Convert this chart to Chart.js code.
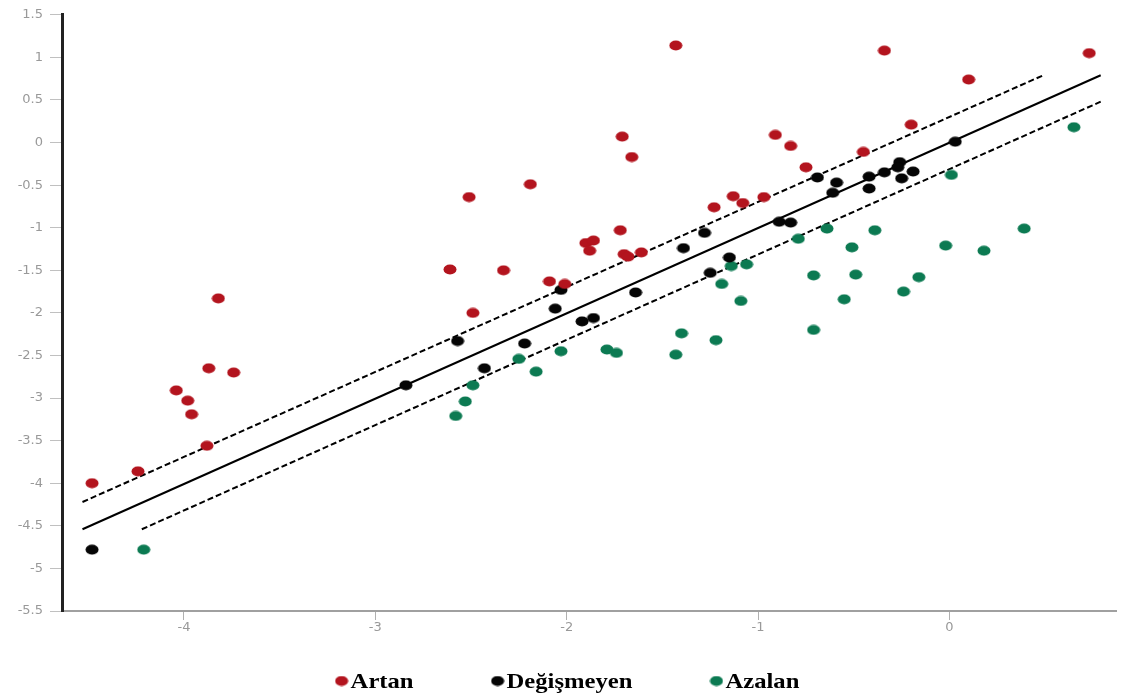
<!DOCTYPE html>
<html lang="tr">
<head>
<meta charset="utf-8">
<title>Artan / Değişmeyen / Azalan</title>
<script src="https://cdn.jsdelivr.net/npm/chart.js@4/dist/chart.umd.min.js"></script>
<style>
  html, body { margin: 0; padding: 0; background: #fff; overflow: hidden; }
  canvas { display: block; }
</style>
</head>
<body>
<canvas id="scatterChart" width="1121" height="697"></canvas>
<script>
// axis ticks
const xTicks = [-4, -3, -2, -1, 0]
const yTicks = [1.5, 1, 0.5, 0, -0.5, -1, -1.5, -2, -2.5, -3, -3.5, -4, -4.5, -5, -5.5]

// Artan
const artanX = [-4.48, -4.24, -4.04, -3.98, -3.96, -3.82, -3.87, -3.74, -3.88, -2.61, -2.51, -2.49, -2.33, -2.19,
  -2.09, -2.01, -1.90, -1.88, -1.86, -1.72, -1.71, -1.70, -1.68, -1.66, -1.61, -1.43, -1.23, -1.13, -1.08,
  -0.97, -0.91, -0.83, -0.75, -0.45, -0.34, -0.20, 0.10, 0.73]
const artanY = [-4.00, -3.86, -2.91, -3.03, -3.19, -1.83, -2.65, -2.70, -3.56, -1.49, -0.64, -2.00, -1.50, -0.49,
  -1.63, -1.66, -1.18, -1.27, -1.15, -1.03, 0.07, -1.31, -1.34, -0.17, -1.29, 1.14, -0.76, -0.63, -0.71,
  -0.64, 0.09, -0.04, -0.29, -0.11, 1.08, 0.21, 0.74, 1.05]

// Değişmeyen
const degismeyenX = [-4.48, -2.84, -2.57, -2.43, -2.22, -2.06, -2.03, -1.92, -1.86, -1.64, -1.39, -1.28, -1.25,
  -1.15, -0.89, -0.83, -0.69, -0.59, -0.61, -0.42, -0.42, -0.34, -0.26, -0.27, -0.19, -0.25, 0.03]
const degismeyenY = [-4.78, -2.85, -2.33, -2.65, -2.36, -1.95, -1.73, -2.10, -2.06, -1.76, -1.24, -1.06, -1.53,
  -1.35, -0.93, -0.94, -0.41, -0.47, -0.59, -0.40, -0.54, -0.35, -0.23, -0.29, -0.34, -0.42, 0.01]

// Azalan
const azalanX = [-4.21, -2.58, -2.53, -2.49, -2.25, -2.16, -2.03, -1.79, -1.74, -1.43, -1.40, -1.22, -1.19, -1.09,
  -1.14, -1.06, -0.79, -0.64, -0.71, -0.71, -0.51, -0.49, -0.55, -0.39, -0.16, -0.24, -0.02, 0.18, 0.39,
  0.01, 0.65]
const azalanY = [-4.78, -3.21, -3.04, -2.85, -2.54, -2.69, -2.45, -2.43, -2.47, -2.49, -2.24, -2.32, -1.66, -1.86,
  -1.45, -1.43, -1.13, -1.01, -1.56, -2.20, -1.23, -1.55, -1.84, -1.03, -1.58, -1.75, -1.21, -1.27, -1.01,
  -0.38, 0.18]

// regresyon doğrusu ve sınırlar
const fitX = [-4.53, 0.79]
const fitY = [-4.54, 0.79]
const upperX = [-4.53, 0.49]
const upperY = [-4.22, 0.79]
const lowerX = [-4.22, 0.79]
const lowerY = [-4.54, 0.48]

const RED = '#b3141e'
const BLACK = '#050505'
const GREEN = '#0c7a52'

function toPoints(xs, ys) {
  return xs.map((x, i) => ({ x, y: ys[i] }))
}

// image scan is stretched sideways, so dots are drawn as small ellipses
function makeDot(color) {
  const c = document.createElement('canvas')
  c.width = 14
  c.height = 11
  const g = c.getContext('2d')
  g.fillStyle = color
  g.beginPath()
  g.ellipse(7, 5.5, 6.5, 5, 0, 0, Math.PI * 2)
  g.fill()
  return c
}

const bottomLegend = {
  id: 'bottomLegend',
  afterDraw(chart) {
    const ctx = chart.ctx
    const items = chart.data.datasets.filter((ds) => ds.inLegend)
    const stretch = 1.12
    const gap = 77
    ctx.save()
    ctx.font = 'bold 22px "Liberation Serif", "Times New Roman", serif'
    ctx.textBaseline = 'middle'
    const widths = items.map((ds) => 14 + 2 + ctx.measureText(ds.label).width * stretch)
    const total = widths.reduce((a, b) => a + b, 0) + gap * (items.length - 1)
    let x = 567 - total / 2
    const y = 681
    items.forEach((ds, i) => {
      ctx.drawImage(ds.pointStyle, x, y - 5.5)
      ctx.save()
      ctx.translate(x + 16, y)
      ctx.scale(stretch, 1)
      ctx.fillStyle = '#000'
      ctx.fillText(ds.label, 0, 1)
      ctx.restore()
      x += widths[i] + gap
    })
    ctx.restore()
  }
}

const lineStyle = { showLine: true, pointRadius: 0, borderColor: '#000', borderWidth: 2, fill: false, order: 5 }

const ctx = document.getElementById('scatterChart').getContext('2d')
new Chart(ctx, {
  type: 'scatter',
  data: {
    datasets: [
      { label: 'Artan', data: toPoints(artanX, artanY), pointStyle: makeDot(RED), inLegend: true, order: 1 },
      { label: 'Değişmeyen', data: toPoints(degismeyenX, degismeyenY), pointStyle: makeDot(BLACK), inLegend: true, order: 1 },
      { label: 'Azalan', data: toPoints(azalanX, azalanY), pointStyle: makeDot(GREEN), inLegend: true, order: 1 },
      { label: 'fit', data: toPoints(fitX, fitY), ...lineStyle },
      { label: 'upper', data: toPoints(upperX, upperY), ...lineStyle, borderDash: [6, 3] },
      { label: 'lower', data: toPoints(lowerX, lowerY), ...lineStyle, borderDash: [6, 3] },
    ]
  },
  options: {
    responsive: false,
    animation: false,
    devicePixelRatio: 1,
    layout: { padding: { top: 11, right: 0, bottom: 56, left: 0 } },
    plugins: {
      legend: { display: false },
      tooltip: { enabled: false },
    },
    scales: {
      x: {
        type: 'linear',
        min: -4.637,
        max: 0.87,
        afterBuildTicks: (scale) => { scale.ticks = xTicks.map((v) => ({ value: v })) },
        afterFit: (scale) => {
          scale.height = 30
          scale.paddingLeft = 0
          scale.paddingRight = 0
        },
        grid: { drawOnChartArea: false, tickLength: 9, color: '#b0b0b0' },
        border: { color: '#a0a0a0', width: 2 },
        ticks: {
          color: '#999',
          padding: 0,
          maxRotation: 0,
          autoSkip: false,
          font: { family: 'DejaVu Sans', size: 13 },
          callback: (v) => String(v),
        }
      },
      y: {
        min: -5.5,
        max: 1.5,
        afterBuildTicks: (scale) => { scale.ticks = yTicks.map((v) => ({ value: v })) },
        afterFit: (scale) => { scale.width = 62 },
        grid: { drawOnChartArea: false, tickLength: 12, color: '#c0c0c0' },
        border: { color: '#222', width: 3 },
        ticks: {
          color: '#999',
          padding: 7,
          autoSkip: false,
          font: { family: 'DejaVu Sans', size: 13 },
          callback: (v) => String(v),
        }
      }
    }
  },
  plugins: [bottomLegend]
})
</script>
</body>
</html>
